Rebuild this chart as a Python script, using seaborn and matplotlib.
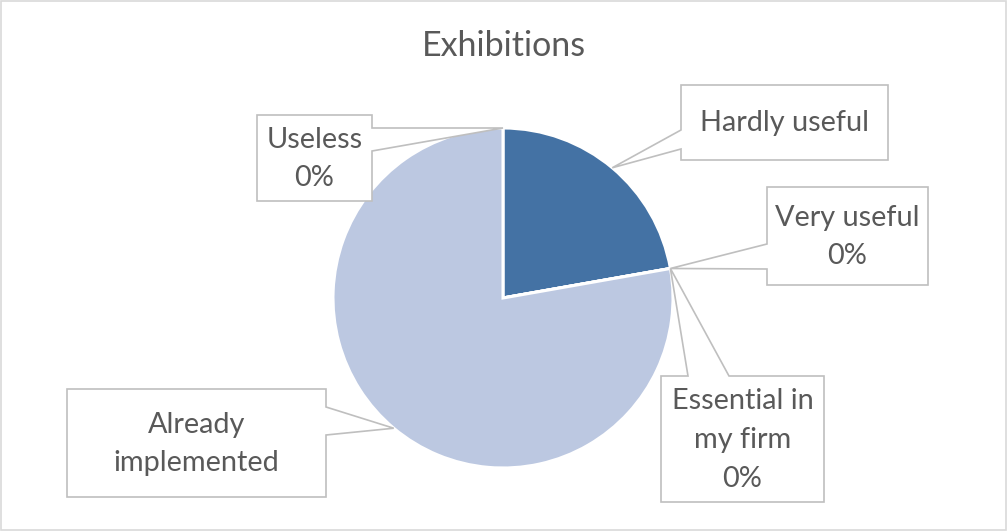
import matplotlib
matplotlib.use("Agg")
import matplotlib.pyplot as plt
import seaborn as sns
import numpy as np
from matplotlib.patches import Polygon, Rectangle

# Survey answers for "Exhibitions" (number of firms)
categories = ["Useless", "Hardly useful", "Very useful", "Essential in\nmy firm", "Already\nimplemented"]
counts = [0, 2, 0, 0, 7]
show_pct = [True, False, True, True, False]
slice_colors = ["#2F5597", "#4472A4", "#8FAADC", "#A5B8DA", "#BCC8E1"]

sns.set_theme(style="white")
plt.rcParams["font.family"] = ["Lato", "DejaVu Sans"]

W, H = 1007, 531
fig = plt.figure(figsize=(W / 100, H / 100), dpi=100)
ax = fig.add_axes([0, 0, 1, 1])
ax.set_xlim(0, W)
ax.set_ylim(H, 0)
ax.set_aspect("equal")
ax.axis("off")

center = (503, 298)
radius = 170
wedges, _ = ax.pie(counts, colors=slice_colors, startangle=-90, counterclock=True,
                   radius=radius, center=center, frame=True,
                   wedgeprops=dict(edgecolor="white", linewidth=2.2))
ax.set_xlim(0, W)
ax.set_ylim(H, 0)
ax.axis("off")

text_color = "#595959"
edge_color = "#BFBFBF"

# Callout boxes: (x0, y0, x1, y1), side the pointer leaves from, and its two base offsets
boxes = [
    ((257, 115, 372, 201), "right", (128, 151)),
    ((681, 85, 888, 160), "left", (130, 149)),
    ((767, 187, 928, 285), "left", (244, 269)),
    ((661, 376, 824, 502), "top", (688, 729)),
    ((67, 389, 326, 497), "right", (407, 435)),
]


def callout(box, side, base, tip):
    x0, y0, x1, y1 = box
    a, b = base
    if side == "left":
        pts = [(x0, y0), (x1, y0), (x1, y1), (x0, y1), (x0, b), tip, (x0, a)]
    elif side == "right":
        pts = [(x0, y0), (x1, y0), (x1, a), tip, (x1, b), (x1, y1), (x0, y1)]
    else:  # top
        pts = [(x0, y0), (a, y0), tip, (b, y0), (x1, y0), (x1, y1), (x0, y1)]
    return Polygon(pts, closed=True, facecolor="white", edgecolor=edge_color,
                   linewidth=1.2, zorder=5)


total = sum(counts)
for w, name, n, pct, (box, side, base) in zip(wedges, categories, counts, show_pct, boxes):
    mid = np.deg2rad((w.theta1 + w.theta2) / 2)
    tip = (center[0] + radius * np.cos(mid), center[1] + radius * np.sin(mid))
    ax.add_patch(callout(box, side, base, tip))
    label = name + (f"\n{100 * n / total:.0f}%" if pct else "")
    ax.text((box[0] + box[2]) / 2, (box[1] + box[3]) / 2 + 1, label, ha="center", va="center",
            fontsize=20.8, color=text_color, linespacing=1.6, zorder=6)

ax.text(W / 2, 46, "Exhibitions", ha="center", va="center", fontsize=24.5, color=text_color)

# outer chart border
ax.add_patch(Rectangle((0.5, 0.5), W - 1.5, H - 1.5, fill=False, edgecolor="#D9D9D9",
                       linewidth=1.2, zorder=10))

fig.savefig("out.png", dpi=100)
